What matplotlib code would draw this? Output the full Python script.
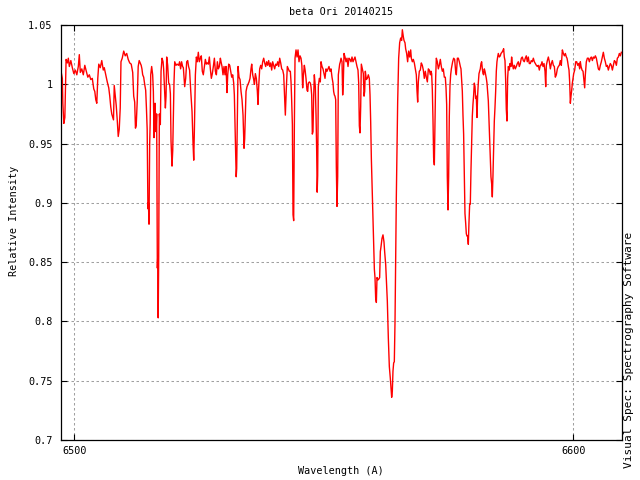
import matplotlib
matplotlib.use('Agg')
import matplotlib.pyplot as plt

# (wavelength [A], relative intensity)
spectrum = [
    (6497.33, 1.011), (6497.60, 1.005), (6497.70, 0.984), (6497.90, 0.967), (6498.10, 0.972),
    (6498.20, 0.990), (6498.35, 1.021), (6498.60, 1.018), (6498.80, 1.022), (6499.00, 1.015),
    (6499.30, 1.020), (6499.60, 1.014), (6499.90, 1.009), (6500.20, 1.012), (6500.50, 1.008),
    (6500.80, 1.015), (6501.00, 1.025), (6501.20, 1.010), (6501.50, 1.013), (6501.80, 1.008),
    (6502.10, 1.016), (6502.40, 1.011), (6502.70, 1.006), (6503.00, 1.008), (6503.30, 1.004),
    (6503.60, 1.005), (6503.90, 0.996), (6504.10, 0.994), (6504.30, 0.987), (6504.50, 0.984),
    (6504.70, 1.005), (6504.90, 1.017), (6505.20, 1.014), (6505.50, 1.020), (6505.80, 1.012),
    (6506.00, 1.014), (6506.30, 1.008), (6506.60, 1.002), (6506.90, 0.997), (6507.10, 0.990),
    (6507.30, 0.981), (6507.50, 0.975), (6507.70, 0.972), (6507.85, 0.970), (6508.00, 0.999),
    (6508.20, 0.990), (6508.40, 0.982), (6508.60, 0.970), (6508.80, 0.956), (6509.00, 0.962),
    (6509.20, 0.980), (6509.35, 1.019), (6509.60, 1.022), (6509.90, 1.028), (6510.20, 1.024),
    (6510.50, 1.026), (6510.80, 1.021), (6511.10, 1.018), (6511.40, 1.017), (6511.70, 1.010),
    (6511.90, 0.990), (6512.10, 0.985), (6512.25, 0.963), (6512.40, 0.965), (6512.60, 0.985),
    (6512.80, 1.015), (6513.00, 1.020),
    (6513.40, 1.016), (6513.55, 1.013), (6513.70, 1.008), (6513.90, 1.006), (6514.10, 1.000),
    (6514.30, 0.995), (6514.45, 0.980), (6514.60, 0.962), (6514.75, 0.895), (6514.85, 0.900),
    (6514.97, 0.882), (6515.10, 0.950), (6515.20, 0.967), (6515.31, 1.008), (6515.50, 1.015),
    (6515.70, 1.008), (6515.84, 0.994), (6515.98, 0.955), (6516.10, 0.975), (6516.18, 0.984),
    (6516.30, 0.970), (6516.38, 0.960), (6516.50, 0.975), (6516.64, 0.845), (6516.72, 0.855),
    (6516.81, 0.803), (6516.91, 0.855), (6517.04, 0.975), (6517.24, 0.966), (6517.38, 1.011),
    (6517.58, 1.022), (6517.78, 1.019), (6517.90, 1.013), (6518.05, 0.998), (6518.25, 0.980),
    (6518.38, 0.990), (6518.51, 1.023), (6518.71, 1.016), (6518.91, 1.001), (6519.10, 1.000),
    (6519.25, 0.992), (6519.38, 0.952), (6519.58, 0.931), (6519.72, 0.944), (6519.85, 0.975),
    (6519.98, 1.002), (6520.12, 1.019), (6520.38, 1.016), (6520.60, 1.017), (6520.90, 1.016),
    (6521.10, 1.019), (6521.30, 1.013), (6521.50, 1.019), (6521.70, 1.015), (6521.85, 1.014),
    (6521.99, 1.006), (6522.12, 0.998), (6522.32, 1.005), (6522.52, 1.019), (6522.72, 1.020),
    (6522.90, 1.015), (6523.10, 1.012), (6523.32, 0.995), (6523.46, 0.986), (6523.59, 0.977),
    (6523.79, 0.950), (6523.93, 0.936), (6524.06, 0.961), (6524.26, 1.008), (6524.46, 1.023),
    (6524.65, 1.019), (6524.85, 1.027), (6525.05, 1.019), (6525.25, 1.022), (6525.45, 1.024),
    (6525.65, 1.011), (6525.85, 1.008), (6526.06, 1.015), (6526.26, 1.021), (6526.46, 1.017),
    (6526.66, 1.018), (6526.86, 1.017), (6527.06, 1.023), (6527.26, 1.013), (6527.46, 1.005),
    (6527.66, 1.009), (6527.86, 1.015), (6528.07, 1.022), (6528.27, 1.011), (6528.47, 1.008),
    (6528.67, 1.019), (6528.87, 1.013), (6529.07, 1.015), (6529.27, 1.022),
    (6529.40, 1.019), (6529.60, 1.015), (6529.80, 1.008), (6530.00, 1.015), (6530.20, 1.008),
    (6530.40, 1.015), (6530.60, 0.993), (6530.74, 1.008), (6530.94, 1.017), (6531.14, 1.016),
    (6531.34, 1.011), (6531.54, 1.006), (6531.74, 1.008), (6531.94, 1.001), (6532.07, 0.991),
    (6532.21, 0.966), (6532.34, 0.940), (6532.44, 0.922), (6532.54, 0.929), (6532.67, 0.974),
    (6532.81, 1.015), (6533.01, 1.006), (6533.21, 1.004), (6533.41, 0.994), (6533.61, 0.987),
    (6533.81, 0.974), (6534.01, 0.946), (6534.14, 0.954), (6534.28, 0.974), (6534.41, 0.994),
    (6534.61, 0.998), (6534.81, 1.000), (6535.01, 1.002), (6535.21, 1.005), (6535.41, 1.013),
    (6535.55, 1.017), (6535.75, 1.008), (6535.95, 1.004), (6536.10, 1.000), (6536.28, 1.009),
    (6536.48, 1.005), (6536.68, 0.994), (6536.81, 0.983), (6536.95, 0.998), (6537.15, 1.013),
    (6537.35, 1.016), (6537.55, 1.013), (6537.75, 1.019), (6537.95, 1.022), (6538.15, 1.018),
    (6538.35, 1.015), (6538.55, 1.019), (6538.75, 1.016), (6538.95, 1.020), (6539.15, 1.015),
    (6539.35, 1.018), (6539.55, 1.012), (6539.75, 1.019), (6539.95, 1.016), (6540.15, 1.013),
    (6540.36, 1.017), (6540.56, 1.016), (6540.76, 1.019), (6540.96, 1.015), (6541.16, 1.022),
    (6541.36, 1.018), (6541.56, 1.013), (6541.76, 1.012), (6541.96, 1.008), (6542.09, 0.994),
    (6542.29, 0.974), (6542.49, 0.997), (6542.69, 1.015), (6542.89, 1.013), (6543.09, 1.011),
    (6543.29, 1.011), (6543.43, 1.002), (6543.56, 0.986), (6543.70, 0.966), (6543.83, 0.890),
    (6543.96, 0.885), (6544.10, 0.966), (6544.23, 1.022), (6544.43, 1.029), (6544.63, 1.023),
    (6544.83, 1.029), (6545.03, 1.019), (6545.23, 1.024), (6545.43, 1.022),
    (6545.60, 1.016), (6545.76, 0.997), (6545.90, 1.007), (6546.10, 1.016), (6546.25, 1.012),
    (6546.43, 1.005), (6546.63, 0.995), (6546.77, 0.994), (6546.90, 1.001), (6547.10, 1.002),
    (6547.30, 1.001), (6547.43, 0.998), (6547.57, 0.991), (6547.70, 0.958), (6547.83, 0.960),
    (6547.97, 0.990), (6548.10, 1.008), (6548.30, 0.998), (6548.44, 0.974), (6548.57, 0.944),
    (6548.67, 0.909), (6548.77, 0.923), (6548.90, 0.998), (6549.10, 1.005), (6549.30, 1.002),
    (6549.44, 1.019), (6549.64, 1.015), (6549.84, 1.013), (6550.04, 1.009), (6550.24, 1.005),
    (6550.44, 1.013), (6550.64, 1.011), (6550.84, 1.013), (6551.04, 1.015), (6551.24, 1.011),
    (6551.44, 1.013), (6551.64, 1.006), (6551.84, 1.001), (6551.97, 0.994), (6552.11, 0.991),
    (6552.24, 0.990), (6552.38, 0.987), (6552.51, 0.930), (6552.64, 0.897), (6552.78, 0.922),
    (6552.91, 1.008), (6553.05, 1.013), (6553.18, 1.017), (6553.32, 1.019), (6553.45, 1.022),
    (6553.65, 1.019), (6553.78, 0.991), (6553.91, 1.002), (6554.05, 1.026), (6554.25, 1.023),
    (6554.45, 1.019), (6554.65, 1.022), (6554.85, 1.015), (6555.05, 1.022), (6555.25, 1.021),
    (6555.45, 1.019), (6555.65, 1.023), (6555.85, 1.019), (6556.05, 1.021), (6556.25, 1.023),
    (6556.45, 1.019), (6556.65, 1.015), (6556.85, 1.012), (6556.99, 1.001), (6557.12, 0.965),
    (6557.25, 0.959), (6557.39, 0.981), (6557.52, 1.017), (6557.72, 1.013), (6557.92, 1.009),
    (6558.06, 0.990), (6558.19, 0.994), (6558.32, 1.011), (6558.52, 1.004), (6558.72, 1.005),
    (6558.92, 1.008), (6559.12, 1.005), (6559.26, 0.991), (6559.39, 0.969), (6559.53, 0.937),
    (6559.73, 0.905), (6559.93, 0.870), (6560.13, 0.844), (6560.26, 0.837), (6560.39, 0.820),
    (6560.53, 0.816), (6560.66, 0.837), (6560.86, 0.835), (6561.06, 0.836), (6561.19, 0.837),
    (6561.33, 0.859),
    (6561.46, 0.863), (6561.66, 0.870), (6561.86, 0.873), (6562.06, 0.867), (6562.19, 0.859),
    (6562.40, 0.848), (6562.60, 0.828), (6562.73, 0.817), (6562.93, 0.786), (6563.13, 0.762),
    (6563.33, 0.752), (6563.46, 0.744), (6563.60, 0.736), (6563.73, 0.741), (6563.86, 0.758),
    (6564.00, 0.765), (6564.13, 0.766), (6564.27, 0.800), (6564.40, 0.851), (6564.53, 0.904),
    (6564.67, 0.945), (6564.80, 0.985), (6565.00, 1.022), (6565.20, 1.035), (6565.40, 1.039),
    (6565.60, 1.037), (6565.74, 1.046), (6565.94, 1.040), (6566.07, 1.037), (6566.27, 1.035),
    (6566.40, 1.030), (6566.60, 1.026), (6566.80, 1.019), (6567.00, 1.028), (6567.21, 1.023),
    (6567.41, 1.029), (6567.54, 1.022), (6567.74, 1.019), (6567.94, 1.021), (6568.14, 1.018),
    (6568.34, 1.013), (6568.54, 1.008), (6568.67, 0.995), (6568.81, 0.985), (6568.94, 1.002),
    (6569.14, 1.011), (6569.34, 1.012), (6569.54, 1.018), (6569.74, 1.016), (6569.94, 1.012),
    (6570.14, 1.005), (6570.34, 1.011), (6570.54, 1.006), (6570.75, 1.002), (6570.95, 1.013),
    (6571.15, 1.012), (6571.35, 1.008), (6571.48, 1.011), (6571.61, 1.009), (6571.75, 0.995),
    (6571.88, 0.970), (6572.01, 0.938), (6572.15, 0.932), (6572.28, 0.966), (6572.42, 1.006),
    (6572.55, 1.022), (6572.75, 1.019), (6572.95, 1.013), (6573.15, 1.016), (6573.35, 1.021),
    (6573.55, 1.015), (6573.75, 1.011), (6573.95, 1.013), (6574.15, 1.006), (6574.35, 1.006),
    (6574.49, 0.997), (6574.62, 0.983), (6574.75, 0.922), (6574.89, 0.894), (6575.02, 0.922),
    (6575.15, 0.973), (6575.29, 0.999), (6575.42, 1.008), (6575.56, 1.013), (6575.69, 1.016),
    (6575.82, 1.019), (6576.02, 1.022), (6576.22, 1.021), (6576.42, 1.011), (6576.56, 1.008),
    (6576.76, 1.022), (6576.96, 1.022), (6577.16, 1.019), (6577.36, 1.015),
    (6577.49, 1.013), (6577.62, 1.004), (6577.76, 0.994), (6577.89, 0.974), (6578.02, 0.958),
    (6578.16, 0.923), (6578.29, 0.891), (6578.43, 0.883), (6578.56, 0.874), (6578.69, 0.872),
    (6578.83, 0.872), (6578.96, 0.865), (6579.09, 0.883), (6579.23, 0.899), (6579.36, 0.899),
    (6579.49, 0.927), (6579.63, 0.952), (6579.76, 0.973), (6579.89, 0.983), (6580.03, 0.991),
    (6580.16, 1.001), (6580.30, 0.998), (6580.43, 0.988), (6580.56, 0.990), (6580.70, 0.972),
    (6580.83, 0.991), (6580.96, 1.001), (6581.10, 1.009), (6581.23, 1.011), (6581.36, 1.013),
    (6581.50, 1.0175), (6581.63, 1.019), (6581.77, 1.013), (6581.90, 1.009), (6582.03, 1.008),
    (6582.17, 1.013), (6582.30, 1.011), (6582.43, 1.008), (6582.57, 1.005), (6582.70, 1.001),
    (6582.83, 0.994), (6582.97, 0.986), (6583.10, 0.970), (6583.23, 0.952), (6583.37, 0.938),
    (6583.50, 0.922), (6583.64, 0.916), (6583.77, 0.905), (6583.90, 0.923), (6584.04, 0.947),
    (6584.17, 0.969), (6584.30, 0.980), (6584.44, 0.994), (6584.57, 1.011), (6584.70, 1.019),
    (6584.84, 1.023), (6584.97, 1.026), (6585.17, 1.023), (6585.37, 1.024), (6585.51, 1.026),
    (6585.71, 1.027), (6585.91, 1.0286), (6586.04, 1.030), (6586.17, 1.023), (6586.31, 1.020),
    (6586.44, 1.004), (6586.57, 0.979), (6586.71, 0.969), (6586.84, 1.005), (6586.98, 1.015),
    (6587.18, 1.012), (6587.31, 1.0175), (6587.51, 1.015), (6587.64, 1.023), (6587.78, 1.0175),
    (6587.98, 1.013), (6588.18, 1.016), (6588.38, 1.013), (6588.58, 1.015), (6588.78, 1.0175),
    (6588.98, 1.019), (6589.18, 1.015), (6589.38, 1.0175), (6589.58, 1.022), (6589.78, 1.023),
    (6589.98, 1.020), (6590.18, 1.019), (6590.38, 1.022), (6590.58, 1.024), (6590.78, 1.019),
    (6590.98, 1.023), (6591.18, 1.0175), (6591.38, 1.0175), (6591.58, 1.020), (6591.79, 1.019),
    (6591.99, 1.022), (6592.19, 1.019), (6592.39, 1.0175), (6592.59, 1.016), (6592.79, 1.015),
    (6592.99, 1.016), (6593.19, 1.012), (6593.39, 1.016),
    (6593.53, 1.016), (6593.73, 1.019), (6593.93, 1.015), (6594.13, 1.0175), (6594.33, 1.011),
    (6594.47, 0.998), (6594.60, 1.016), (6594.80, 1.020), (6595.00, 1.023), (6595.20, 1.019),
    (6595.40, 1.013), (6595.60, 1.0175), (6595.80, 1.020), (6596.00, 1.016), (6596.20, 1.015),
    (6596.40, 1.006), (6596.60, 1.008), (6596.80, 1.013), (6597.00, 1.015), (6597.20, 1.016),
    (6597.40, 1.020), (6597.60, 1.016), (6597.81, 1.029), (6598.01, 1.026), (6598.21, 1.024),
    (6598.41, 1.026), (6598.61, 1.023), (6598.74, 1.022), (6598.87, 1.019), (6599.01, 1.015),
    (6599.14, 1.012), (6599.27, 1.002), (6599.41, 0.984), (6599.54, 0.990), (6599.68, 0.995),
    (6599.81, 1.001), (6599.94, 1.005), (6600.08, 1.009), (6600.28, 1.012), (6600.48, 1.019),
    (6600.68, 1.019), (6600.88, 1.016), (6601.08, 1.0175), (6601.28, 1.013), (6601.41, 1.019),
    (6601.55, 1.015), (6601.75, 1.012), (6601.95, 1.011), (6602.15, 1.002), (6602.28, 0.997),
    (6602.41, 1.008), (6602.61, 1.019), (6602.82, 1.022), (6603.02, 1.022), (6603.22, 1.019),
    (6603.42, 1.022), (6603.62, 1.023), (6603.82, 1.020), (6604.02, 1.023), (6604.22, 1.022),
    (6604.42, 1.024), (6604.62, 1.022), (6604.82, 1.0175), (6605.02, 1.013), (6605.22, 1.012),
    (6605.42, 1.016), (6605.62, 1.019), (6605.82, 1.023), (6606.02, 1.027), (6606.22, 1.022),
    (6606.42, 1.019), (6606.62, 1.015), (6606.82, 1.016), (6607.02, 1.012), (6607.22, 1.015),
    (6607.42, 1.0175), (6607.62, 1.016), (6607.83, 1.012), (6608.03, 1.016), (6608.23, 1.020),
    (6608.43, 1.019), (6608.63, 1.016), (6608.83, 1.022), (6609.03, 1.023), (6609.23, 1.026),
    (6609.43, 1.024), (6609.63, 1.027),
]
wavelength = [p[0] for p in spectrum]
intensity = [p[1] for p in spectrum]

x_ticks = [6500, 6600]
x_tick_labels = ["6500", "6600"]
y_ticks = [0.7, 0.75, 0.8, 0.85, 0.9, 0.95, 1.0, 1.05]
y_tick_labels = ["0.7", "0.75", "0.8", "0.85", "0.9", "0.95", "1", "1.05"]

title = "beta Ori 20140215"
xlabel = "Wavelength (A)"
ylabel = "Relative Intensity"
side_note = "Visual Spec: Spectrography Software"

plt.rcParams['font.family'] = ['DejaVu Sans Mono']
plt.rcParams['lines.scale_dashes'] = False

fig = plt.figure(figsize=(6.4, 4.8), dpi=100)
ax = fig.add_axes([61/640, 40/480, 561/640, 415/480])
ax.plot(wavelength, intensity, color='#ff0000', lw=1.0)
ax.set_xlim(6497.33, 6609.76)
ax.set_ylim(0.7, 1.05)
ax.set_xticks(x_ticks)
ax.set_xticklabels(x_tick_labels)
ax.set_yticks(y_ticks)
ax.set_yticklabels(y_tick_labels)
ax.set_axisbelow(True)
ax.grid(True, color='#a0a0a0', linestyle=(0, (1.8, 1.8)), lw=0.75)
ax.tick_params(direction='in', length=4.5, width=0.8, top=True, right=True,
               labelsize=7.3, colors='black')
ax.tick_params(axis='y', pad=6)
ax.tick_params(axis='x', pad=4)
for s in ax.spines.values():
    s.set_linewidth(0.9)

fig.text(341/640, 1 - 12/480, title, ha='center', va='center', fontsize=7.3)
fig.text(341/640, 1 - 471/480, xlabel, ha='center', va='center', fontsize=7.3)
fig.text(14/640, 1 - 221/480, ylabel, ha='center', va='center', rotation=90, fontsize=7.3)
fig.text(629/640, 1 - 350/480, side_note, ha='center', va='center', rotation=90, fontsize=8.0)

fig.savefig('out.png', dpi=100)
